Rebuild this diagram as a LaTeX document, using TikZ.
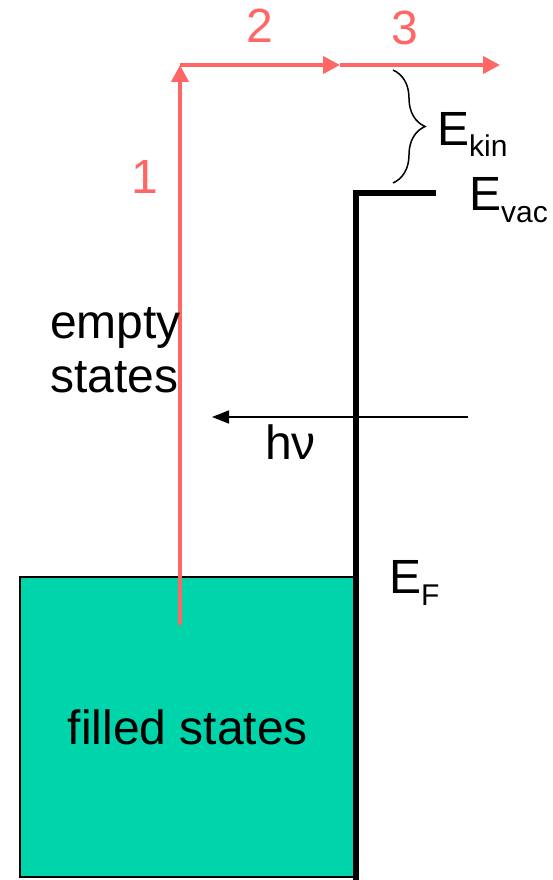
\documentclass[tikz,border=0pt]{standalone}
\usepackage{fontspec}
\setmainfont{Liberation Sans}
\usetikzlibrary{arrows.meta,decorations.pathreplacing}
\definecolor{photored}{HTML}{FF6666}
\definecolor{bandgreen}{HTML}{00D4AA}
\newcommand{\lowidx}[1]{\raisebox{-12pt}{\fontsize{30}{30}\selectfont #1}}
\begin{document}
\begin{tikzpicture}[x=1pt,y=-1pt,
    lbl/.style={inner sep=0pt,font=\fontsize{48}{54}\selectfont},
    transit/.style={draw=photored,line width=4pt,-{Triangle[length=17pt,width=17pt]}}]

    \def\efermi{577}   
    \def\evac{193}     
    \def\surf{356}     
    \def\tophigh{65}   

    \useasboundingbox (0,0) rectangle (552,880);

    % filled states
    \draw[fill=bandgreen,line width=1.5pt] (20,\efermi) rectangle
        node[lbl] (filled) {filled states} (\surf,877);

    % surface and vacuum level
    \draw[line width=6pt,line join=miter] (\surf,880) -- (\surf,\evac) -- (436,\evac);

    % incoming photon
    \coordinate (phin) at (468,417);
    \coordinate (phout) at (212,417);
    \draw[line width=1.5pt,-{Triangle[length=17pt,width=13pt]}] (phin) -- (phout);
    \node[lbl,anchor=base west] (hnu) at (265,459) {hν};

    % three step path
    \coordinate (s0) at (180,625);
    \coordinate (s1) at (180,\tophigh);
    \coordinate (s2) at (340,\tophigh);
    \coordinate (s3) at (500,\tophigh);
    \draw[transit] (s0) -- (s1);
    \draw[transit] (s1) -- (s2);
    \draw[transit] (s2) -- (s3);
    \node[lbl,text=photored,anchor=base] (one) at (145,193) {1};
    \node[lbl,text=photored,anchor=base] (two) at (260,43) {2};
    \node[lbl,text=photored,anchor=base] (three) at (405,45) {3};

    % kinetic energy
    \draw[decorate,decoration={brace,amplitude=32pt},line width=1.5pt]
        (393,70) -- (393,183);
    \node[lbl,anchor=base west] (ekin) at (437,145) {E\lowidx{kin}};
    \node[lbl,anchor=base west] (evac) at (469,210) {E\lowidx{vac}};
    \node[lbl,anchor=base west] (ef) at (389,593) {E\lowidx{F}};

    \node[lbl,anchor=base west,align=left] (empty) at (50,392) {empty\\states};
\end{tikzpicture}
\end{document}
